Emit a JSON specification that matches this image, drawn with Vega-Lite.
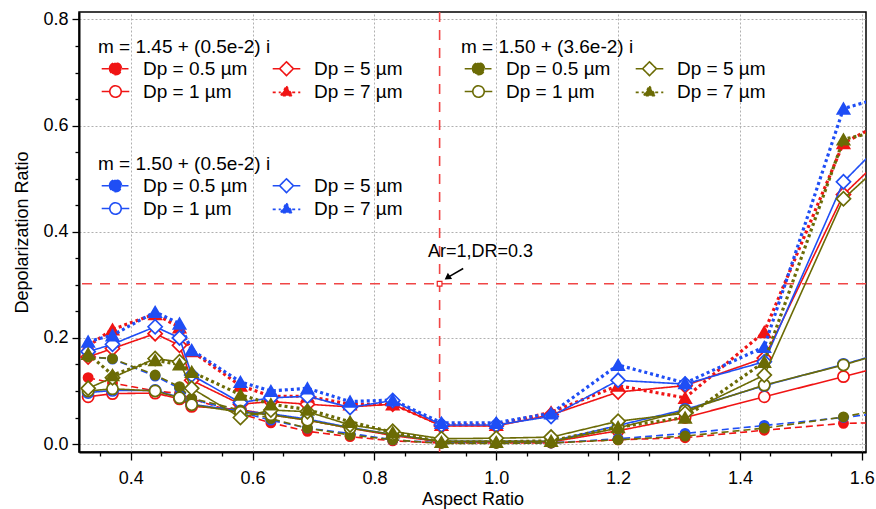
{
"$schema":"https://vega.github.io/schema/vega-lite/v6.json",
"width":787,"height":440,
"autosize":{"type":"none"},
"padding":{"left":79,"top":12,"right":10,"bottom":57},
"background":"white",
"config":{
 "font":"Liberation Sans",
 "view":{"stroke":"black","strokeWidth":1.5},
 "axis":{"domainColor":"black","domainWidth":2,"tickColor":"black","tickWidth":1.3,"labelFont":"Liberation Sans","labelFontSize":18,"labelColor":"black","titleFont":"Liberation Sans","titleFontSize":18,"titleFontWeight":"normal","titleColor":"black","gridColor":"#b0b0b0","gridDash":[2,2],"gridWidth":1},
 "legend":{"titleFont":"Liberation Sans","titleFontSize":19,"titleFontWeight":"normal","titleColor":"black","labelFont":"Liberation Sans","labelFontSize":19,"labelColor":"black"}
},
"datasets":{
"red":[
{"d":"Dp = 0.5 µm","x":0.33,"y":0.125},{"d":"Dp = 0.5 µm","x":0.37,"y":0.115},{"d":"Dp = 0.5 µm","x":0.44,"y":0.1},{"d":"Dp = 0.5 µm","x":0.48,"y":0.095},{"d":"Dp = 0.5 µm","x":0.5,"y":0.085},{"d":"Dp = 0.5 µm","x":0.58,"y":0.057},{"d":"Dp = 0.5 µm","x":0.63,"y":0.04},{"d":"Dp = 0.5 µm","x":0.69,"y":0.024},{"d":"Dp = 0.5 µm","x":0.76,"y":0.014},{"d":"Dp = 0.5 µm","x":0.83,"y":0.006},{"d":"Dp = 0.5 µm","x":0.91,"y":0.002},{"d":"Dp = 0.5 µm","x":1.0,"y":0.002},{"d":"Dp = 0.5 µm","x":1.09,"y":0.002},{"d":"Dp = 0.5 µm","x":1.2,"y":0.008},{"d":"Dp = 0.5 µm","x":1.31,"y":0.012},{"d":"Dp = 0.5 µm","x":1.44,"y":0.026},{"d":"Dp = 0.5 µm","x":1.57,"y":0.039},{"d":"Dp = 0.5 µm","x":1.72,"y":0.042},
{"d":"Dp = 1 µm","x":0.33,"y":0.089},{"d":"Dp = 1 µm","x":0.37,"y":0.095},{"d":"Dp = 1 µm","x":0.44,"y":0.096},{"d":"Dp = 1 µm","x":0.48,"y":0.085},{"d":"Dp = 1 µm","x":0.5,"y":0.071},{"d":"Dp = 1 µm","x":0.58,"y":0.065},{"d":"Dp = 1 µm","x":0.63,"y":0.055},{"d":"Dp = 1 µm","x":0.69,"y":0.045},{"d":"Dp = 1 µm","x":0.76,"y":0.03},{"d":"Dp = 1 µm","x":0.83,"y":0.016},{"d":"Dp = 1 µm","x":0.91,"y":0.004},{"d":"Dp = 1 µm","x":1.0,"y":0.004},{"d":"Dp = 1 µm","x":1.09,"y":0.004},{"d":"Dp = 1 µm","x":1.2,"y":0.025},{"d":"Dp = 1 µm","x":1.31,"y":0.05},{"d":"Dp = 1 µm","x":1.44,"y":0.089},{"d":"Dp = 1 µm","x":1.57,"y":0.127},{"d":"Dp = 1 µm","x":1.72,"y":0.172},
{"d":"Dp = 5 µm","x":0.33,"y":0.164},{"d":"Dp = 5 µm","x":0.37,"y":0.18},{"d":"Dp = 5 µm","x":0.44,"y":0.208},{"d":"Dp = 5 µm","x":0.48,"y":0.186},{"d":"Dp = 5 µm","x":0.5,"y":0.12},{"d":"Dp = 5 µm","x":0.58,"y":0.075},{"d":"Dp = 5 µm","x":0.63,"y":0.08},{"d":"Dp = 5 µm","x":0.69,"y":0.075},{"d":"Dp = 5 µm","x":0.76,"y":0.07},{"d":"Dp = 5 µm","x":0.83,"y":0.075},{"d":"Dp = 5 µm","x":0.91,"y":0.034},{"d":"Dp = 5 µm","x":1.0,"y":0.034},{"d":"Dp = 5 µm","x":1.09,"y":0.055},{"d":"Dp = 5 µm","x":1.2,"y":0.098},{"d":"Dp = 5 µm","x":1.31,"y":0.11},{"d":"Dp = 5 µm","x":1.44,"y":0.162},{"d":"Dp = 5 µm","x":1.57,"y":0.47},{"d":"Dp = 5 µm","x":1.72,"y":0.635},
{"d":"Dp = 7 µm","x":0.33,"y":0.185},{"d":"Dp = 7 µm","x":0.37,"y":0.216},{"d":"Dp = 7 µm","x":0.44,"y":0.245},{"d":"Dp = 7 µm","x":0.48,"y":0.22},{"d":"Dp = 7 µm","x":0.5,"y":0.175},{"d":"Dp = 7 µm","x":0.58,"y":0.11},{"d":"Dp = 7 µm","x":0.63,"y":0.09},{"d":"Dp = 7 µm","x":0.69,"y":0.09},{"d":"Dp = 7 µm","x":0.76,"y":0.075},{"d":"Dp = 7 µm","x":0.83,"y":0.075},{"d":"Dp = 7 µm","x":0.91,"y":0.036},{"d":"Dp = 7 µm","x":1.0,"y":0.036},{"d":"Dp = 7 µm","x":1.09,"y":0.06},{"d":"Dp = 7 µm","x":1.2,"y":0.11},{"d":"Dp = 7 µm","x":1.31,"y":0.087},{"d":"Dp = 7 µm","x":1.44,"y":0.211},{"d":"Dp = 7 µm","x":1.57,"y":0.567},{"d":"Dp = 7 µm","x":1.72,"y":0.657}
],
"blue":[
{"d":"Dp = 0.5 µm","x":0.33,"y":0.165},{"d":"Dp = 0.5 µm","x":0.37,"y":0.16},{"d":"Dp = 0.5 µm","x":0.44,"y":0.128},{"d":"Dp = 0.5 µm","x":0.48,"y":0.105},{"d":"Dp = 0.5 µm","x":0.5,"y":0.085},{"d":"Dp = 0.5 µm","x":0.58,"y":0.06},{"d":"Dp = 0.5 µm","x":0.63,"y":0.045},{"d":"Dp = 0.5 µm","x":0.69,"y":0.03},{"d":"Dp = 0.5 µm","x":0.76,"y":0.02},{"d":"Dp = 0.5 µm","x":0.83,"y":0.008},{"d":"Dp = 0.5 µm","x":0.91,"y":0.002},{"d":"Dp = 0.5 µm","x":1.0,"y":0.002},{"d":"Dp = 0.5 µm","x":1.09,"y":0.002},{"d":"Dp = 0.5 µm","x":1.2,"y":0.01},{"d":"Dp = 0.5 µm","x":1.31,"y":0.02},{"d":"Dp = 0.5 µm","x":1.44,"y":0.035},{"d":"Dp = 0.5 µm","x":1.57,"y":0.05},{"d":"Dp = 0.5 µm","x":1.72,"y":0.07},
{"d":"Dp = 1 µm","x":0.33,"y":0.097},{"d":"Dp = 1 µm","x":0.37,"y":0.101},{"d":"Dp = 1 µm","x":0.44,"y":0.101},{"d":"Dp = 1 µm","x":0.48,"y":0.088},{"d":"Dp = 1 µm","x":0.5,"y":0.075},{"d":"Dp = 1 µm","x":0.58,"y":0.062},{"d":"Dp = 1 µm","x":0.63,"y":0.057},{"d":"Dp = 1 µm","x":0.69,"y":0.047},{"d":"Dp = 1 µm","x":0.76,"y":0.031},{"d":"Dp = 1 µm","x":0.83,"y":0.018},{"d":"Dp = 1 µm","x":0.91,"y":0.005},{"d":"Dp = 1 µm","x":1.0,"y":0.005},{"d":"Dp = 1 µm","x":1.09,"y":0.005},{"d":"Dp = 1 µm","x":1.2,"y":0.035},{"d":"Dp = 1 µm","x":1.31,"y":0.065},{"d":"Dp = 1 µm","x":1.44,"y":0.11},{"d":"Dp = 1 µm","x":1.57,"y":0.15},{"d":"Dp = 1 µm","x":1.72,"y":0.2},
{"d":"Dp = 5 µm","x":0.33,"y":0.174},{"d":"Dp = 5 µm","x":0.37,"y":0.188},{"d":"Dp = 5 µm","x":0.44,"y":0.221},{"d":"Dp = 5 µm","x":0.48,"y":0.2},{"d":"Dp = 5 µm","x":0.5,"y":0.13},{"d":"Dp = 5 µm","x":0.58,"y":0.078},{"d":"Dp = 5 µm","x":0.63,"y":0.087},{"d":"Dp = 5 µm","x":0.69,"y":0.09},{"d":"Dp = 5 µm","x":0.76,"y":0.069},{"d":"Dp = 5 µm","x":0.83,"y":0.082},{"d":"Dp = 5 µm","x":0.91,"y":0.036},{"d":"Dp = 5 µm","x":1.0,"y":0.036},{"d":"Dp = 5 µm","x":1.09,"y":0.052},{"d":"Dp = 5 µm","x":1.2,"y":0.12},{"d":"Dp = 5 µm","x":1.31,"y":0.113},{"d":"Dp = 5 µm","x":1.44,"y":0.155},{"d":"Dp = 5 µm","x":1.57,"y":0.494},{"d":"Dp = 5 µm","x":1.72,"y":0.669},
{"d":"Dp = 7 µm","x":0.33,"y":0.193},{"d":"Dp = 7 µm","x":0.37,"y":0.205},{"d":"Dp = 7 µm","x":0.44,"y":0.249},{"d":"Dp = 7 µm","x":0.48,"y":0.227},{"d":"Dp = 7 µm","x":0.5,"y":0.177},{"d":"Dp = 7 µm","x":0.58,"y":0.117},{"d":"Dp = 7 µm","x":0.63,"y":0.1},{"d":"Dp = 7 µm","x":0.69,"y":0.105},{"d":"Dp = 7 µm","x":0.76,"y":0.08},{"d":"Dp = 7 µm","x":0.83,"y":0.083},{"d":"Dp = 7 µm","x":0.91,"y":0.04},{"d":"Dp = 7 µm","x":1.0,"y":0.04},{"d":"Dp = 7 µm","x":1.09,"y":0.058},{"d":"Dp = 7 µm","x":1.2,"y":0.149},{"d":"Dp = 7 µm","x":1.31,"y":0.115},{"d":"Dp = 7 µm","x":1.44,"y":0.183},{"d":"Dp = 7 µm","x":1.57,"y":0.632},{"d":"Dp = 7 µm","x":1.72,"y":0.682}
],
"olive":[
{"d":"Dp = 0.5 µm","x":0.33,"y":0.164},{"d":"Dp = 0.5 µm","x":0.37,"y":0.161},{"d":"Dp = 0.5 µm","x":0.44,"y":0.13},{"d":"Dp = 0.5 µm","x":0.48,"y":0.108},{"d":"Dp = 0.5 µm","x":0.5,"y":0.086},{"d":"Dp = 0.5 µm","x":0.58,"y":0.064},{"d":"Dp = 0.5 µm","x":0.63,"y":0.048},{"d":"Dp = 0.5 µm","x":0.69,"y":0.03},{"d":"Dp = 0.5 µm","x":0.76,"y":0.017},{"d":"Dp = 0.5 µm","x":0.83,"y":0.008},{"d":"Dp = 0.5 µm","x":0.91,"y":0.001},{"d":"Dp = 0.5 µm","x":1.0,"y":0.001},{"d":"Dp = 0.5 µm","x":1.09,"y":0.002},{"d":"Dp = 0.5 µm","x":1.2,"y":0.008},{"d":"Dp = 0.5 µm","x":1.31,"y":0.015},{"d":"Dp = 0.5 µm","x":1.44,"y":0.03},{"d":"Dp = 0.5 µm","x":1.57,"y":0.051},{"d":"Dp = 0.5 µm","x":1.72,"y":0.086},
{"d":"Dp = 1 µm","x":0.33,"y":0.1},{"d":"Dp = 1 µm","x":0.37,"y":0.104},{"d":"Dp = 1 µm","x":0.44,"y":0.1},{"d":"Dp = 1 µm","x":0.48,"y":0.087},{"d":"Dp = 1 µm","x":0.5,"y":0.074},{"d":"Dp = 1 µm","x":0.58,"y":0.06},{"d":"Dp = 1 µm","x":0.63,"y":0.055},{"d":"Dp = 1 µm","x":0.69,"y":0.045},{"d":"Dp = 1 µm","x":0.76,"y":0.03},{"d":"Dp = 1 µm","x":0.83,"y":0.018},{"d":"Dp = 1 µm","x":0.91,"y":0.005},{"d":"Dp = 1 µm","x":1.0,"y":0.005},{"d":"Dp = 1 µm","x":1.09,"y":0.005},{"d":"Dp = 1 µm","x":1.2,"y":0.03},{"d":"Dp = 1 µm","x":1.31,"y":0.063},{"d":"Dp = 1 µm","x":1.44,"y":0.111},{"d":"Dp = 1 µm","x":1.57,"y":0.149},{"d":"Dp = 1 µm","x":1.72,"y":0.2},
{"d":"Dp = 5 µm","x":0.33,"y":0.105},{"d":"Dp = 5 µm","x":0.37,"y":0.125},{"d":"Dp = 5 µm","x":0.44,"y":0.161},{"d":"Dp = 5 µm","x":0.48,"y":0.155},{"d":"Dp = 5 µm","x":0.5,"y":0.105},{"d":"Dp = 5 µm","x":0.58,"y":0.05},{"d":"Dp = 5 µm","x":0.63,"y":0.064},{"d":"Dp = 5 µm","x":0.69,"y":0.061},{"d":"Dp = 5 µm","x":0.76,"y":0.036},{"d":"Dp = 5 µm","x":0.83,"y":0.024},{"d":"Dp = 5 µm","x":0.91,"y":0.01},{"d":"Dp = 5 µm","x":1.0,"y":0.011},{"d":"Dp = 5 µm","x":1.09,"y":0.013},{"d":"Dp = 5 µm","x":1.2,"y":0.043},{"d":"Dp = 5 µm","x":1.31,"y":0.058},{"d":"Dp = 5 µm","x":1.44,"y":0.13},{"d":"Dp = 5 µm","x":1.57,"y":0.462},{"d":"Dp = 5 µm","x":1.72,"y":0.62},
{"d":"Dp = 7 µm","x":0.33,"y":0.17},{"d":"Dp = 7 µm","x":0.37,"y":0.13},{"d":"Dp = 7 µm","x":0.44,"y":0.158},{"d":"Dp = 7 µm","x":0.48,"y":0.15},{"d":"Dp = 7 µm","x":0.5,"y":0.136},{"d":"Dp = 7 µm","x":0.58,"y":0.093},{"d":"Dp = 7 µm","x":0.63,"y":0.075},{"d":"Dp = 7 µm","x":0.69,"y":0.065},{"d":"Dp = 7 µm","x":0.76,"y":0.042},{"d":"Dp = 7 µm","x":0.83,"y":0.022},{"d":"Dp = 7 µm","x":0.91,"y":0.004},{"d":"Dp = 7 µm","x":1.0,"y":0.004},{"d":"Dp = 7 µm","x":1.09,"y":0.006},{"d":"Dp = 7 µm","x":1.2,"y":0.032},{"d":"Dp = 7 µm","x":1.31,"y":0.05},{"d":"Dp = 7 µm","x":1.44,"y":0.155},{"d":"Dp = 7 µm","x":1.57,"y":0.574},{"d":"Dp = 7 µm","x":1.72,"y":0.614}
]
},
"layer":[
{"data":{"values":[{"x":1.0,"y":0.4}]},
 "mark":{"type":"point","opacity":0},
 "encoding":{
  "x":{"field":"x","type":"quantitative","scale":{"domain":[0.315,1.607],"nice":false,"zero":false},
   "axis":{"orient":"bottom","values":[0.35,0.45,0.55,0.65,0.75,0.85,0.95,1.05,1.15,1.25,1.35,1.45,1.55],"labels":false,"grid":false,"domain":false,"ticks":true,"tickSize":4,"title":null}},
  "y":{"field":"y","type":"quantitative","scale":{"domain":[-0.015,0.814],"nice":false,"zero":false},
   "axis":{"orient":"left","values":[0.05,0.1,0.15,0.25,0.3,0.35,0.45,0.5,0.55,0.65,0.7,0.75],"labels":false,"grid":false,"domain":false,"ticks":true,"tickSize":4,"title":null}}}},
{"data":{"values":[{"x":0.907}]},
 "mark":{"type":"rule","stroke":"#f04646","strokeWidth":1.6,"strokeDash":[10,8]},
 "encoding":{"x":{"field":"x","type":"quantitative","scale":{"domain":[0.315,1.607],"nice":false,"zero":false},
   "axis":{"orient":"bottom","title":"Aspect Ratio","values":[0.4,0.6,0.8,1.0,1.2,1.4,1.6],"format":".1f","tickSize":8,"grid":true,
   "labelOverlap":false,"labelFlush":false,"labelPadding":9,"titlePadding":3}}}},
{"data":{"values":[{"y":0.302}]},
 "mark":{"type":"rule","stroke":"#f04646","strokeWidth":1.6,"strokeDash":[10,8]},
 "encoding":{"y":{"field":"y","type":"quantitative","scale":{"domain":[-0.015,0.814],"nice":false,"zero":false},
   "axis":{"orient":"left","title":"Depolarization Ratio","values":[0,0.2,0.4,0.6,0.8],"format":".1f","tickSize":7,"grid":true,
   "labelOverlap":false,"labelFlush":false,"labelPadding":4,"titlePadding":11}}}},
{"data":{"values":[{"x":0.907,"y":0.302}]},
 "mark":{"type":"point","shape":"square","size":22,"stroke":"#ee2222","strokeWidth":1.2,"fill":"white","opacity":1},
 "encoding":{"x":{"field":"x","type":"quantitative","scale":{"domain":[0.315,1.607],"nice":false,"zero":false},"axis":null},"y":{"field":"y","type":"quantitative","scale":{"domain":[-0.015,0.814],"nice":false,"zero":false},"axis":null}}},
{"data":{"values":[{"x":0.9457,"y":0.3307,"x2":0.9197,"y2":0.3134}]},
 "mark":{"type":"rule","color":"black","strokeWidth":1.5},
 "encoding":{"x":{"field":"x","type":"quantitative","scale":{"domain":[0.315,1.607],"nice":false,"zero":false},"axis":null},"y":{"field":"y","type":"quantitative","scale":{"domain":[-0.015,0.814],"nice":false,"zero":false},"axis":null},"x2":{"field":"x2"},"y2":{"field":"y2"}}},
{"data":{"values":[{"x":0.9197,"y":0.3134}]},
 "mark":{"type":"point","shape":"triangle-up","angle":235,"size":55,"filled":true,"color":"black","opacity":1},
 "encoding":{"x":{"field":"x","type":"quantitative","scale":{"domain":[0.315,1.607],"nice":false,"zero":false},"axis":null},"y":{"field":"y","type":"quantitative","scale":{"domain":[-0.015,0.814],"nice":false,"zero":false},"axis":null}}},
{"data":{"values":[{"x":0.888,"y":0.362,"t":"Ar=1,DR=0.3"}]},
 "mark":{"type":"text","align":"left","baseline":"middle","fontSize":18,"font":"Liberation Sans","color":"black"},
 "encoding":{"x":{"field":"x","type":"quantitative","scale":{"domain":[0.315,1.607],"nice":false,"zero":false},"axis":null},"y":{"field":"y","type":"quantitative","scale":{"domain":[-0.015,0.814],"nice":false,"zero":false},"axis":null},"text":{"field":"t"}}},
{"data":{"name":"red"},
 "layer":[
  {"mark":{"type":"line","stroke":"#f01414","clip":true},
   "encoding":{"x":{"field":"x","type":"quantitative","scale":{"domain":[0.315,1.607],"nice":false,"zero":false},"axis":null},"y":{"field":"y","type":"quantitative","scale":{"domain":[-0.015,0.814],"nice":false,"zero":false},"axis":null},
    "strokeDash":{"field":"d","type":"nominal","scale":{"domain":["Dp = 0.5 µm","Dp = 1 µm","Dp = 5 µm","Dp = 7 µm"],"range":[[7,4],[1,0],[1,0],[3,3]]},"legend":null},
    "strokeWidth":{"field":"d","type":"nominal","scale":{"type":"ordinal","domain":["Dp = 0.5 µm","Dp = 1 µm","Dp = 5 µm","Dp = 7 µm"],"range":[1.6,1.6,1.6,3.2]},"legend":null}}},
  {"mark":{"type":"point","stroke":"#f01414","strokeWidth":1.7,"opacity":1,"clip":true},
   "encoding":{"x":{"field":"x","type":"quantitative","scale":{"domain":[0.315,1.607],"nice":false,"zero":false},"axis":null},"y":{"field":"y","type":"quantitative","scale":{"domain":[-0.015,0.814],"nice":false,"zero":false},"axis":null},
    "shape":{"field":"d","type":"nominal","scale":{"domain":["Dp = 0.5 µm","Dp = 1 µm","Dp = 5 µm","Dp = 7 µm"],"range":["circle","circle","diamond","triangle-up"]},"legend":null},
    "fill":{"field":"d","type":"nominal","scale":{"domain":["Dp = 0.5 µm","Dp = 1 µm","Dp = 5 µm","Dp = 7 µm"],"range":["#f01414","white","white","#f01414"]},"legend":null},
    "size":{"field":"d","type":"nominal","scale":{"type":"ordinal","domain":["Dp = 0.5 µm","Dp = 1 µm","Dp = 5 µm","Dp = 7 µm"],"range":[85,125,200,150]},"legend":null}}},
  {"mark":{"type":"point","strokeWidth":1.6,"opacity":0,"clip":true},
   "encoding":{"x":{"field":"x","type":"quantitative","scale":{"domain":[0.315,1.607],"nice":false,"zero":false},"axis":null},"y":{"field":"y","type":"quantitative","scale":{"domain":[-0.015,0.814],"nice":false,"zero":false},"axis":null},
    "shape":{"field":"d","type":"nominal","scale":{"domain":["Dp = 0.5 µm","Dp = 1 µm","Dp = 5 µm","Dp = 7 µm"],"range":["M-2.3,0L-1,0M1,0L2.3,0M-1,0A1,1,0,1,1,1,0A1,1,0,1,1,-1,0Z","M-2.3,0L-0.95,0M0.95,0L2.3,0M-0.95,0A0.95,0.95,0,1,1,0.95,0A0.95,0.95,0,1,1,-0.95,0Z","M-2.3,0L-1.15,0M1.15,0L2.3,0M-1.15,0L0,-1.15L1.15,0L0,1.15Z","M-2.3,0.15L-0.95,0.15M0.95,0.15L2.3,0.15M0,-0.9L1,0.7L-1,0.7Z"]},
     "legend":{"title":"m = 1.45 + (0.5e-2) i","orient":"none","legendX":19,"legendY":26,"columns":2,"columnPadding":21,"rowPadding":3,"symbolSize":144,"symbolOffset":8,"labelOffset":18,"symbolStrokeWidth":1.6,"symbolOpacity":1,"padding":0,"titlePadding":2}},
    "fill":{"field":"d","type":"nominal","scale":{"domain":["Dp = 0.5 µm","Dp = 1 µm","Dp = 5 µm","Dp = 7 µm"],"range":["#f01414","white","white","#f01414"]},
     "legend":{"title":"m = 1.45 + (0.5e-2) i","orient":"none","legendX":19,"legendY":26,"columns":2,"columnPadding":21,"rowPadding":3,"symbolSize":144,"symbolOffset":8,"labelOffset":18,"symbolStrokeWidth":1.6,"symbolOpacity":1,"padding":0,"titlePadding":2}},
    "stroke":{"field":"d","type":"nominal","scale":{"domain":["Dp = 0.5 µm","Dp = 1 µm","Dp = 5 µm","Dp = 7 µm"],"range":["#f01414","#f01414","#f01414","#f01414"]},
     "legend":{"title":"m = 1.45 + (0.5e-2) i","orient":"none","legendX":19,"legendY":26,"columns":2,"columnPadding":21,"rowPadding":3,"symbolSize":144,"symbolOffset":8,"labelOffset":18,"symbolStrokeWidth":1.6,"symbolOpacity":1,"padding":0,"titlePadding":2}},
    "strokeDash":{"field":"d","type":"nominal","scale":{"domain":["Dp = 0.5 µm","Dp = 1 µm","Dp = 5 µm","Dp = 7 µm"],"range":[[7,4],[1,0],[1,0],[3,3]]},
     "legend":{"title":"m = 1.45 + (0.5e-2) i","orient":"none","legendX":19,"legendY":26,"columns":2,"columnPadding":21,"rowPadding":3,"symbolSize":144,"symbolOffset":8,"labelOffset":18,"symbolStrokeWidth":1.6,"symbolOpacity":1,"padding":0,"titlePadding":2}}}}
 ],
 "resolve":{"scale":{"shape":"independent","fill":"independent","stroke":"independent","strokeDash":"independent","size":"independent","strokeWidth":"independent"}}},
{"data":{"name":"blue"},
 "layer":[
  {"mark":{"type":"line","stroke":"#1f4ef5","clip":true},
   "encoding":{"x":{"field":"x","type":"quantitative","scale":{"domain":[0.315,1.607],"nice":false,"zero":false},"axis":null},"y":{"field":"y","type":"quantitative","scale":{"domain":[-0.015,0.814],"nice":false,"zero":false},"axis":null},
    "strokeDash":{"field":"d","type":"nominal","scale":{"domain":["Dp = 0.5 µm","Dp = 1 µm","Dp = 5 µm","Dp = 7 µm"],"range":[[7,4],[1,0],[1,0],[3,3]]},"legend":null},
    "strokeWidth":{"field":"d","type":"nominal","scale":{"type":"ordinal","domain":["Dp = 0.5 µm","Dp = 1 µm","Dp = 5 µm","Dp = 7 µm"],"range":[1.6,1.6,1.6,3.2]},"legend":null}}},
  {"mark":{"type":"point","stroke":"#1f4ef5","strokeWidth":1.7,"opacity":1,"clip":true},
   "encoding":{"x":{"field":"x","type":"quantitative","scale":{"domain":[0.315,1.607],"nice":false,"zero":false},"axis":null},"y":{"field":"y","type":"quantitative","scale":{"domain":[-0.015,0.814],"nice":false,"zero":false},"axis":null},
    "shape":{"field":"d","type":"nominal","scale":{"domain":["Dp = 0.5 µm","Dp = 1 µm","Dp = 5 µm","Dp = 7 µm"],"range":["circle","circle","diamond","triangle-up"]},"legend":null},
    "fill":{"field":"d","type":"nominal","scale":{"domain":["Dp = 0.5 µm","Dp = 1 µm","Dp = 5 µm","Dp = 7 µm"],"range":["#1f4ef5","white","white","#1f4ef5"]},"legend":null},
    "size":{"field":"d","type":"nominal","scale":{"type":"ordinal","domain":["Dp = 0.5 µm","Dp = 1 µm","Dp = 5 µm","Dp = 7 µm"],"range":[85,125,200,150]},"legend":null}}},
  {"mark":{"type":"point","strokeWidth":1.6,"opacity":0,"clip":true},
   "encoding":{"x":{"field":"x","type":"quantitative","scale":{"domain":[0.315,1.607],"nice":false,"zero":false},"axis":null},"y":{"field":"y","type":"quantitative","scale":{"domain":[-0.015,0.814],"nice":false,"zero":false},"axis":null},
    "shape":{"field":"d","type":"nominal","scale":{"domain":["Dp = 0.5 µm","Dp = 1 µm","Dp = 5 µm","Dp = 7 µm"],"range":["M-2.3,0L-1,0M1,0L2.3,0M-1,0A1,1,0,1,1,1,0A1,1,0,1,1,-1,0Z","M-2.3,0L-0.95,0M0.95,0L2.3,0M-0.95,0A0.95,0.95,0,1,1,0.95,0A0.95,0.95,0,1,1,-0.95,0Z","M-2.3,0L-1.15,0M1.15,0L2.3,0M-1.15,0L0,-1.15L1.15,0L0,1.15Z","M-2.3,0.15L-0.95,0.15M0.95,0.15L2.3,0.15M0,-0.9L1,0.7L-1,0.7Z"]},
     "legend":{"title":"m = 1.50 + (0.5e-2) i","orient":"none","legendX":19,"legendY":143,"columns":2,"columnPadding":21,"rowPadding":3,"symbolSize":144,"symbolOffset":8,"labelOffset":18,"symbolStrokeWidth":1.6,"symbolOpacity":1,"padding":0,"titlePadding":2}},
    "fill":{"field":"d","type":"nominal","scale":{"domain":["Dp = 0.5 µm","Dp = 1 µm","Dp = 5 µm","Dp = 7 µm"],"range":["#1f4ef5","white","white","#1f4ef5"]},
     "legend":{"title":"m = 1.50 + (0.5e-2) i","orient":"none","legendX":19,"legendY":143,"columns":2,"columnPadding":21,"rowPadding":3,"symbolSize":144,"symbolOffset":8,"labelOffset":18,"symbolStrokeWidth":1.6,"symbolOpacity":1,"padding":0,"titlePadding":2}},
    "stroke":{"field":"d","type":"nominal","scale":{"domain":["Dp = 0.5 µm","Dp = 1 µm","Dp = 5 µm","Dp = 7 µm"],"range":["#1f4ef5","#1f4ef5","#1f4ef5","#1f4ef5"]},
     "legend":{"title":"m = 1.50 + (0.5e-2) i","orient":"none","legendX":19,"legendY":143,"columns":2,"columnPadding":21,"rowPadding":3,"symbolSize":144,"symbolOffset":8,"labelOffset":18,"symbolStrokeWidth":1.6,"symbolOpacity":1,"padding":0,"titlePadding":2}},
    "strokeDash":{"field":"d","type":"nominal","scale":{"domain":["Dp = 0.5 µm","Dp = 1 µm","Dp = 5 µm","Dp = 7 µm"],"range":[[7,4],[1,0],[1,0],[3,3]]},
     "legend":{"title":"m = 1.50 + (0.5e-2) i","orient":"none","legendX":19,"legendY":143,"columns":2,"columnPadding":21,"rowPadding":3,"symbolSize":144,"symbolOffset":8,"labelOffset":18,"symbolStrokeWidth":1.6,"symbolOpacity":1,"padding":0,"titlePadding":2}}}}
 ],
 "resolve":{"scale":{"shape":"independent","fill":"independent","stroke":"independent","strokeDash":"independent","size":"independent","strokeWidth":"independent"}}},
{"data":{"name":"olive"},
 "layer":[
  {"mark":{"type":"line","stroke":"#6b6b05","clip":true},
   "encoding":{"x":{"field":"x","type":"quantitative","scale":{"domain":[0.315,1.607],"nice":false,"zero":false},"axis":null},"y":{"field":"y","type":"quantitative","scale":{"domain":[-0.015,0.814],"nice":false,"zero":false},"axis":null},
    "strokeDash":{"field":"d","type":"nominal","scale":{"domain":["Dp = 0.5 µm","Dp = 1 µm","Dp = 5 µm","Dp = 7 µm"],"range":[[7,4],[1,0],[1,0],[3,3]]},"legend":null},
    "strokeWidth":{"field":"d","type":"nominal","scale":{"type":"ordinal","domain":["Dp = 0.5 µm","Dp = 1 µm","Dp = 5 µm","Dp = 7 µm"],"range":[1.6,1.6,1.6,3.2]},"legend":null}}},
  {"mark":{"type":"point","stroke":"#6b6b05","strokeWidth":1.7,"opacity":1,"clip":true},
   "encoding":{"x":{"field":"x","type":"quantitative","scale":{"domain":[0.315,1.607],"nice":false,"zero":false},"axis":null},"y":{"field":"y","type":"quantitative","scale":{"domain":[-0.015,0.814],"nice":false,"zero":false},"axis":null},
    "shape":{"field":"d","type":"nominal","scale":{"domain":["Dp = 0.5 µm","Dp = 1 µm","Dp = 5 µm","Dp = 7 µm"],"range":["circle","circle","diamond","triangle-up"]},"legend":null},
    "fill":{"field":"d","type":"nominal","scale":{"domain":["Dp = 0.5 µm","Dp = 1 µm","Dp = 5 µm","Dp = 7 µm"],"range":["#6b6b05","white","white","#6b6b05"]},"legend":null},
    "size":{"field":"d","type":"nominal","scale":{"type":"ordinal","domain":["Dp = 0.5 µm","Dp = 1 µm","Dp = 5 µm","Dp = 7 µm"],"range":[85,125,200,150]},"legend":null}}},
  {"mark":{"type":"point","strokeWidth":1.6,"opacity":0,"clip":true},
   "encoding":{"x":{"field":"x","type":"quantitative","scale":{"domain":[0.315,1.607],"nice":false,"zero":false},"axis":null},"y":{"field":"y","type":"quantitative","scale":{"domain":[-0.015,0.814],"nice":false,"zero":false},"axis":null},
    "shape":{"field":"d","type":"nominal","scale":{"domain":["Dp = 0.5 µm","Dp = 1 µm","Dp = 5 µm","Dp = 7 µm"],"range":["M-2.3,0L-1,0M1,0L2.3,0M-1,0A1,1,0,1,1,1,0A1,1,0,1,1,-1,0Z","M-2.3,0L-0.95,0M0.95,0L2.3,0M-0.95,0A0.95,0.95,0,1,1,0.95,0A0.95,0.95,0,1,1,-0.95,0Z","M-2.3,0L-1.15,0M1.15,0L2.3,0M-1.15,0L0,-1.15L1.15,0L0,1.15Z","M-2.3,0.15L-0.95,0.15M0.95,0.15L2.3,0.15M0,-0.9L1,0.7L-1,0.7Z"]},
     "legend":{"title":"m = 1.50 + (3.6e-2) i","orient":"none","legendX":382,"legendY":26,"columns":2,"columnPadding":21,"rowPadding":3,"symbolSize":144,"symbolOffset":8,"labelOffset":18,"symbolStrokeWidth":1.6,"symbolOpacity":1,"padding":0,"titlePadding":2}},
    "fill":{"field":"d","type":"nominal","scale":{"domain":["Dp = 0.5 µm","Dp = 1 µm","Dp = 5 µm","Dp = 7 µm"],"range":["#6b6b05","white","white","#6b6b05"]},
     "legend":{"title":"m = 1.50 + (3.6e-2) i","orient":"none","legendX":382,"legendY":26,"columns":2,"columnPadding":21,"rowPadding":3,"symbolSize":144,"symbolOffset":8,"labelOffset":18,"symbolStrokeWidth":1.6,"symbolOpacity":1,"padding":0,"titlePadding":2}},
    "stroke":{"field":"d","type":"nominal","scale":{"domain":["Dp = 0.5 µm","Dp = 1 µm","Dp = 5 µm","Dp = 7 µm"],"range":["#6b6b05","#6b6b05","#6b6b05","#6b6b05"]},
     "legend":{"title":"m = 1.50 + (3.6e-2) i","orient":"none","legendX":382,"legendY":26,"columns":2,"columnPadding":21,"rowPadding":3,"symbolSize":144,"symbolOffset":8,"labelOffset":18,"symbolStrokeWidth":1.6,"symbolOpacity":1,"padding":0,"titlePadding":2}},
    "strokeDash":{"field":"d","type":"nominal","scale":{"domain":["Dp = 0.5 µm","Dp = 1 µm","Dp = 5 µm","Dp = 7 µm"],"range":[[7,4],[1,0],[1,0],[3,3]]},
     "legend":{"title":"m = 1.50 + (3.6e-2) i","orient":"none","legendX":382,"legendY":26,"columns":2,"columnPadding":21,"rowPadding":3,"symbolSize":144,"symbolOffset":8,"labelOffset":18,"symbolStrokeWidth":1.6,"symbolOpacity":1,"padding":0,"titlePadding":2}}}}
 ],
 "resolve":{"scale":{"shape":"independent","fill":"independent","stroke":"independent","strokeDash":"independent","size":"independent","strokeWidth":"independent"}}}
],
"resolve":{"scale":{"shape":"independent","fill":"independent","stroke":"independent","strokeDash":"independent","size":"independent","strokeWidth":"independent"},"axis":{"x":"independent","y":"independent"}}
}
